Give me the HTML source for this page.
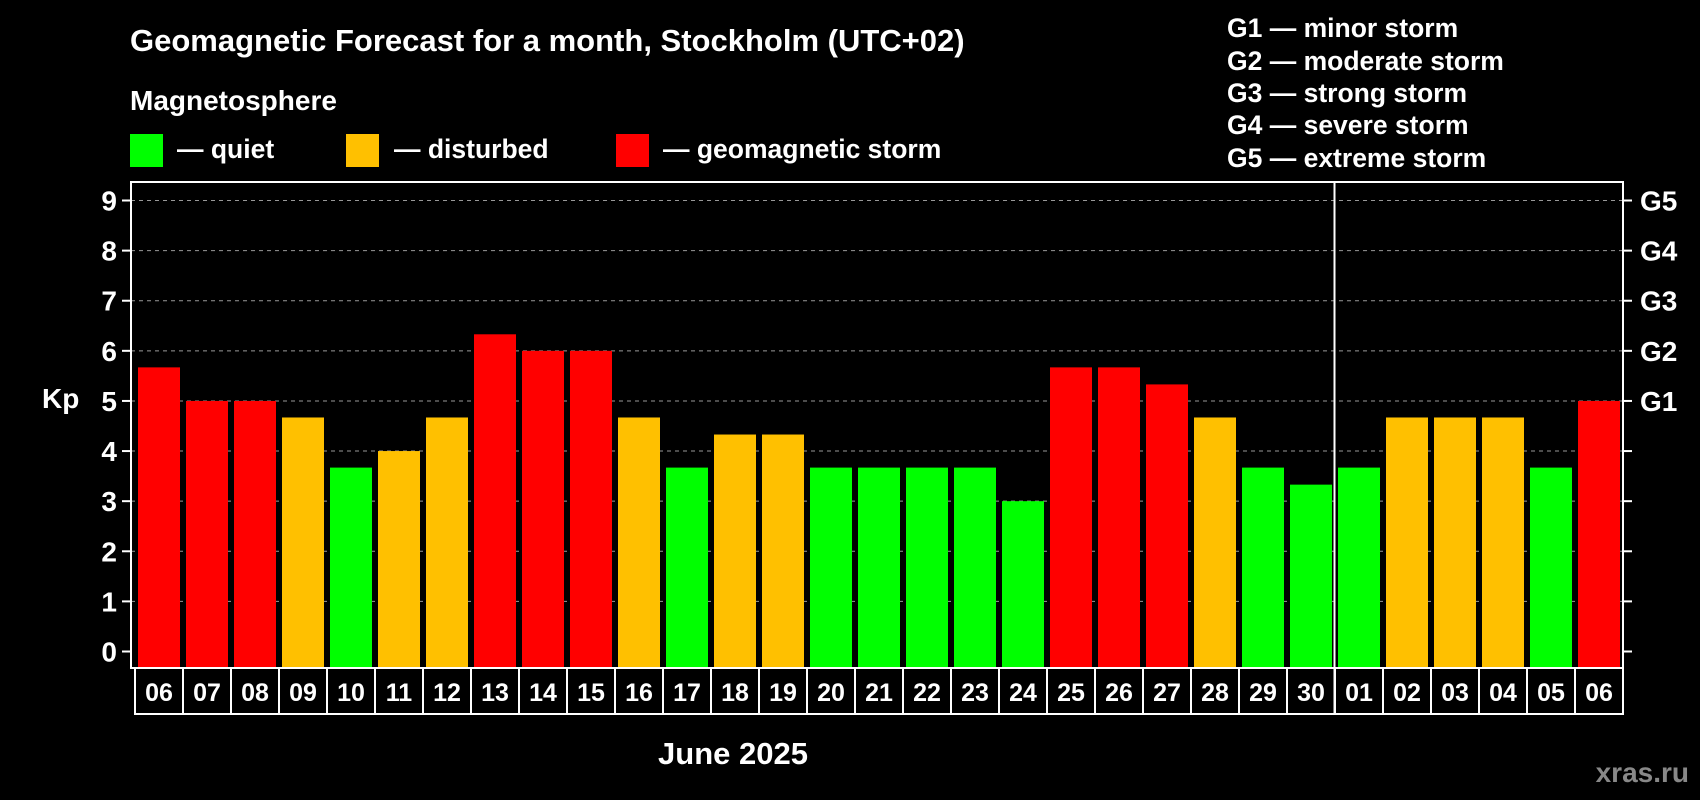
<!DOCTYPE html>
<html><head><meta charset="utf-8"><style>
body{margin:0;background:#000;}
svg{display:block;font-family:"Liberation Sans",sans-serif;font-weight:bold;}
</style></head><body>
<svg id="chart" width="1700" height="800" viewBox="0 0 1700 800" xmlns="http://www.w3.org/2000/svg">
<rect width="1700" height="800" fill="#000"/>
<text x="130" y="51" fill="#fff" font-size="31">Geomagnetic Forecast for a month, Stockholm (UTC+02)</text>
<text x="130" y="110" fill="#fff" font-size="28">Magnetosphere</text>
<rect x="130" y="134" width="33" height="33" fill="#00ff00"/>
<text x="177" y="158" fill="#fff" font-size="26.5">— quiet</text>
<rect x="346" y="134" width="33" height="33" fill="#ffc000"/>
<text x="394" y="158" fill="#fff" font-size="26.5">— disturbed</text>
<rect x="616" y="134" width="33" height="33" fill="#ff0000"/>
<text x="663" y="158" fill="#fff" font-size="26.5">— geomagnetic storm</text>
<g fill="#fff" font-size="26.5">
<text x="1227" y="37">G1 — minor storm</text>
<text x="1227" y="70">G2 — moderate storm</text>
<text x="1227" y="102">G3 — strong storm</text>
<text x="1227" y="134">G4 — severe storm</text>
<text x="1227" y="167">G5 — extreme storm</text>
</g>
<text x="42" y="408" fill="#fff" font-size="28">Kp</text>
<text x="733" y="764" fill="#fff" font-size="31" text-anchor="middle">June 2025</text>
<text x="1689" y="782" fill="#888" font-size="28" text-anchor="end">xras.ru</text>
<g id="plot"></g>
</svg>
<script>
const days = ["06","07","08","09","10","11","12","13","14","15","16","17","18","19","20","21","22","23","24","25","26","27","28","29","30","01","02","03","04","05","06"];
const kpValues = [5.67,5,5,4.67,3.67,4,4.67,6.33,6,6,4.67,3.67,4.33,4.33,3.67,3.67,3.67,3.67,3,5.67,5.67,5.33,4.67,3.67,3.33,3.67,4.67,4.67,4.67,3.67,5];
const yTicks = [0,1,2,3,4,5,6,7,8,9];
const gLabels = ["G1","G2","G3","G4","G5"];
const gLevels = [5,6,7,8,9];
const monthBreakIndex = 25;

const NS = "http://www.w3.org/2000/svg";
const plot = document.getElementById('plot');
const L = 131, R = 1623, T = 182, B = 668;
const y0 = 651.5, unit = (651.5 - 200.5) / 9;
const pitch = 48, barW = 42, bx0 = 138;
function yScale(v){ return y0 - v * unit; }
function xScale(i){ return bx0 + i * pitch; }
function mk(tag, attrs){ const e = document.createElementNS(NS, tag); for (const k in attrs) e.setAttribute(k, attrs[k]); plot.appendChild(e); return e; }
function color(v){ return v >= 5 ? "#ff0000" : (v >= 4 ? "#ffc000" : "#00ff00"); }

yTicks.forEach(v => {
  const y = yScale(v);
  if (v > 0) {
    const g = mk('line', {x1:L, x2:R, y1:y, y2:y, stroke:"#999", "stroke-width":1, "stroke-dasharray":"4,4"});
    
    
  }
  const t = mk('line', {x1:L-9, x2:L, y1:y, y2:y, stroke:"#fff", "stroke-width":2});
  
  
  const t2 = mk('line', {x1:R, x2:R+9, y1:y, y2:y, stroke:"#fff", "stroke-width":2});
  
  
  const lb = mk('text', {x:L-14, y:y+10, fill:"#fff", "font-size":28, "text-anchor":"end"});
  lb.textContent = v;
  
  
});
gLabels.forEach((g, i) => {
  const lb = mk('text', {x:R+17, y:yScale(gLevels[i])+10, fill:"#fff", "font-size":28});
  lb.textContent = g;
  
  
});
kpValues.forEach((v, i) => {
  const top = yScale(v);
  const r = mk('rect', {x:xScale(i), y:top, width:barW, height:B - 1 - top, fill:color(v)});
  
  
  const bxl = 135 + i * pitch;
  const box = mk('rect', {x:bxl, y:B, width:pitch, height:46, fill:"none", stroke:"#fff", "stroke-width":2});
  
  
  const tl = mk('text', {x:bxl + pitch/2, y:B+33, fill:"#fff", "font-size":25, "text-anchor":"middle"});
  tl.textContent = days[i];
  
  
});
const frame = mk('rect', {x:L, y:T, width:R-L, height:B-T, fill:"none", stroke:"#fff", "stroke-width":2});


const sx = xScale(monthBreakIndex) - 3.5;
const sep = mk('line', {x1:sx, x2:sx, y1:T, y2:B+46, stroke:"#fff", "stroke-width":2});


</script>
</body></html>
